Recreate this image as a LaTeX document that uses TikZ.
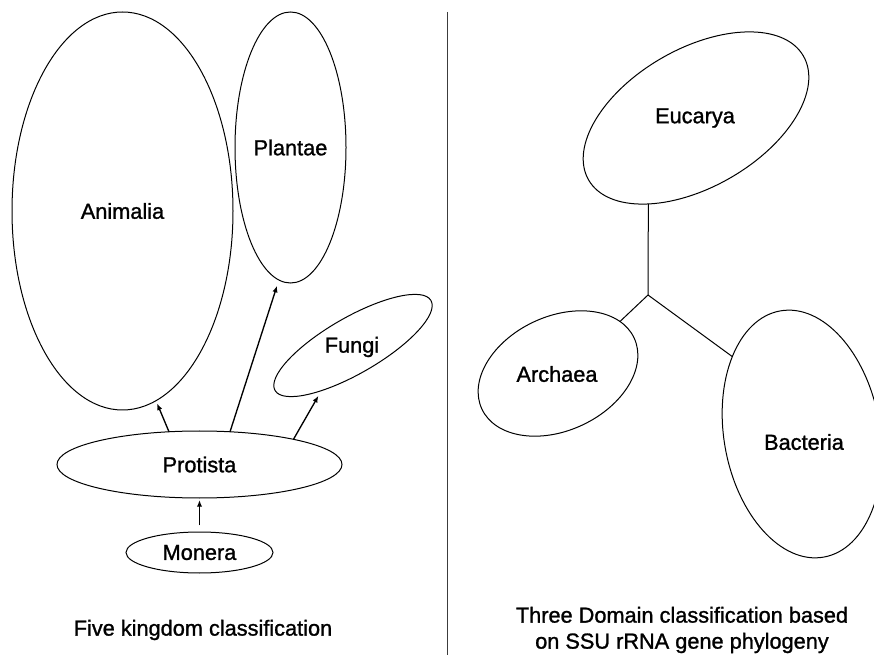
\documentclass[tikz,border=0pt]{standalone}
\usepackage{fontspec}
\setmainfont{Liberation Sans}
\newfontfamily\labelfont{Liberation Sans}[FakeBold=1.2]
\usetikzlibrary{shapes.geometric,arrows.meta}

\tikzset{every picture/.style={line width=0.75pt}}
\tikzset{
  taxon/.style={draw, ellipse, inner sep=0pt, outer sep=0pt, font=\labelfont\fontsize{16.3}{19.5}\selectfont},
  lbl/.style={inner sep=0pt, font=\labelfont\fontsize{16.3}{19.5}\selectfont},
  evo/.style={-{Latex[length=5pt,width=4pt]}, line width=1pt}
}

\begin{document}
\begin{tikzpicture}[x=0.75pt,y=0.75pt,yscale=-1,xscale=1]
\clip (0,0) rectangle (874,655);

%Straight Lines [divider]
\draw [color={rgb, 255:red, 60; green, 60; blue, 60 }]  (447,12) -- (447,655) ;

%Shape: Ellipse [five kingdoms]
\node [taxon, minimum width=165.75pt, minimum height=298.5pt] (ani) at (122.5,211) {Animalia};
\node [taxon, minimum width=83.25pt, minimum height=203.25pt] (pla) at (290.5,147.5) {Plantae};
\node [taxon, minimum width=213.75pt, minimum height=50.25pt] (pro) at (199.5,464.5) {Protista};
\node [taxon, minimum width=110.25pt, minimum height=30.75pt] (mon) at (199.5,552.5) {Monera};
\node [taxon, minimum width=135pt, minimum height=42pt, rotate=30] (fun) at (353,345.5) {};

%Shape: Ellipse [three domains]
\node [taxon, minimum width=186pt, minimum height=103.5pt, rotate=30] (euc) at (696,118) {};
\node [taxon, minimum width=126pt, minimum height=85.5pt, rotate=25] (arc) at (558,373.5) {};
\node [taxon, minimum width=117pt, minimum height=187.5pt, rotate=10] (bac) at (802,434) {};

% Text Node
\node [lbl] (funlbl) at (352,347) {Fungi};
% Text Node
\node [lbl] (euclbl) at (695,118) {Eucarya};
% Text Node
\node [lbl] (arclbl) at (557,374) {Archaea};
% Text Node
\node [lbl] (baclbl) at (804,442) {Bacteria};

%Straight Lines [arrows]
\draw [evo, shorten <=5pt, shorten >=1.5pt] (mon) -- (pro) ;
\draw [evo, shorten >=2.25pt] (pro.133) -- (ani.280) ;
\draw [evo, shorten >=4.5pt] (pro.47) -- (pla.265) ;
\draw [evo, shorten >=4.5pt] (pro.15) -- (fun.205) ;

%Straight Lines [tree]
\coordinate (junc) at (648,295);
\draw (euc.211) -- (junc) ;
\draw (junc) -- (arc.15) ;
\draw (junc) -- (bac.122) ;

% Text Node
\node [lbl] (fivecap) at (203,630) {Five kingdom classification};
% Text Node
\node [lbl, align=center] (threecap) at (682,630) {Three Domain classification based\\on SSU rRNA gene phylogeny};
\end{tikzpicture}
\end{document}
